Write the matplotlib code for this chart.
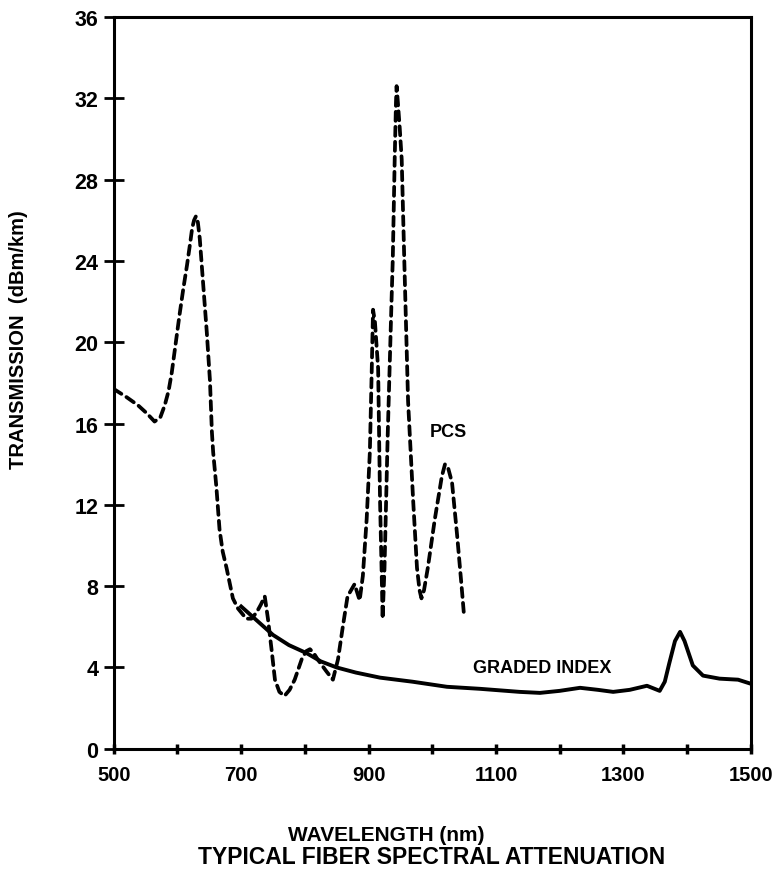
import matplotlib.pyplot as plt

plt.rcParams['font.family'] = ['Liberation Sans', 'DejaVu Sans']
plt.rcParams['font.weight'] = 'bold'

# PCS fiber (dashed curve), wavelength nm vs value
pcs_nm = [500, 520, 538, 552, 564, 573, 580, 586, 591, 597, 603, 609, 615, 620, 623, 626,
          629, 632, 635, 640, 646, 651, 654,
          656, 661, 666, 671, 677, 687, 695, 708, 716, 724, 731, 737, 742, 748, 753, 760, 768,
          776, 784, 795, 802, 808, 814, 820, 834, 844, 852, 860, 867, 878, 886, 891, 897,
          902, 905, 907, 910, 915, 918, 921, 922, 925, 930, 936, 938, 941, 943, 944, 946,
          949, 952, 956, 962, 970, 976, 980, 983, 987, 993, 1004, 1015, 1020, 1025, 1031,
          1039, 1046, 1050]
pcs_val = [17.7, 17.3, 16.9, 16.5, 16.1, 16.3, 16.9, 17.6, 18.5, 19.9, 21.3, 22.6, 23.8, 24.9,
           25.6, 26.0, 26.2, 25.9, 25.1, 23.0, 20.5, 18.1, 15.6,
           14.6, 12.9, 10.8, 9.7, 8.9, 7.4, 6.9, 6.4, 6.4, 6.7, 7.1, 7.5, 6.4, 4.8, 3.4, 2.8, 2.6,
           2.9, 3.4, 4.4, 4.8, 4.9, 4.7, 4.4, 3.8, 3.4, 4.4, 6.1, 7.5, 8.1, 7.3, 8.5, 11.3,
           14.6, 18.7, 21.6, 21.0, 18.7, 12.2, 8.0, 6.4, 8.9, 15.4, 22.0, 24.1, 29.0, 31.8, 32.6, 31.8,
           30.5, 29.0, 24.1, 17.1, 12.2, 8.9, 7.8, 7.4, 7.8, 8.9, 11.3, 13.4, 14.0, 13.8, 13.1,
           10.5, 8.0, 6.5]

# graded index fiber (solid curve)
gi_nm = [700, 725, 750, 775, 803, 825, 850, 880, 918, 969, 1023, 1075, 1137, 1169, 1200,
         1232, 1260, 1284, 1310, 1337, 1357, 1365, 1372, 1381, 1389, 1396, 1409, 1425, 1451,
         1480, 1500]
gi_val = [7.0, 6.3, 5.6, 5.1, 4.7, 4.3, 4.0, 3.75, 3.5, 3.3, 3.05, 2.95, 2.8, 2.75, 2.85,
          3.0, 2.9, 2.8, 2.9, 3.1, 2.85, 3.3, 4.2, 5.3, 5.75, 5.3, 4.1, 3.6, 3.45,
          3.4, 3.2]

x_ticks = [500, 700, 900, 1100, 1300, 1500]
y_ticks = [0, 4, 8, 12, 16, 20, 24, 28, 32, 36]

fig = plt.figure(figsize=(7.74, 8.79), dpi=100)
ax = fig.add_axes([0.147, 0.147, 0.823, 0.8325])

ax.plot(pcs_nm, pcs_val, color='black', lw=2.7, ls=(0, (2.4, 1.6)),
        dash_capstyle='round', dash_joinstyle='round')
ax.plot(gi_nm, gi_val, color='black', lw=2.8, solid_joinstyle='round')

ax.text(1025, 15.6, 'PCS', fontsize=13, fontweight='bold', ha='center', va='center')
ax.text(1172, 4.0, 'GRADED INDEX', fontsize=13, fontweight='bold', ha='center', va='center')

ax.set_xlim(500, 1500)
ax.set_ylim(0, 36)
ax.set_xticks(x_ticks)
ax.set_xticks(range(500, 1501, 100), minor=True)
ax.set_yticks(y_ticks)
for sp in ax.spines.values():
    sp.set_linewidth(2.2)
ax.tick_params(axis='y', direction='inout', length=14, width=2, labelsize=15.5, pad=4)
ax.tick_params(axis='x', which='both', direction='inout', length=7, width=2.5,
               labelsize=14.5, pad=8)

ax.set_ylabel('TRANSMISSION  (dBm/km)', fontsize=14.5, fontweight='bold')
ax.yaxis.set_label_coords(-0.135, 0.56)
fig.text(0.499, 0.05, 'WAVELENGTH (nm)', ha='center', va='center',
         fontsize=15, fontweight='bold')
fig.text(0.557, 0.024, 'TYPICAL FIBER SPECTRAL ATTENUATION', ha='center', va='center',
         fontsize=16.5, fontweight='bold')

fig.savefig('out.png', dpi=100)
